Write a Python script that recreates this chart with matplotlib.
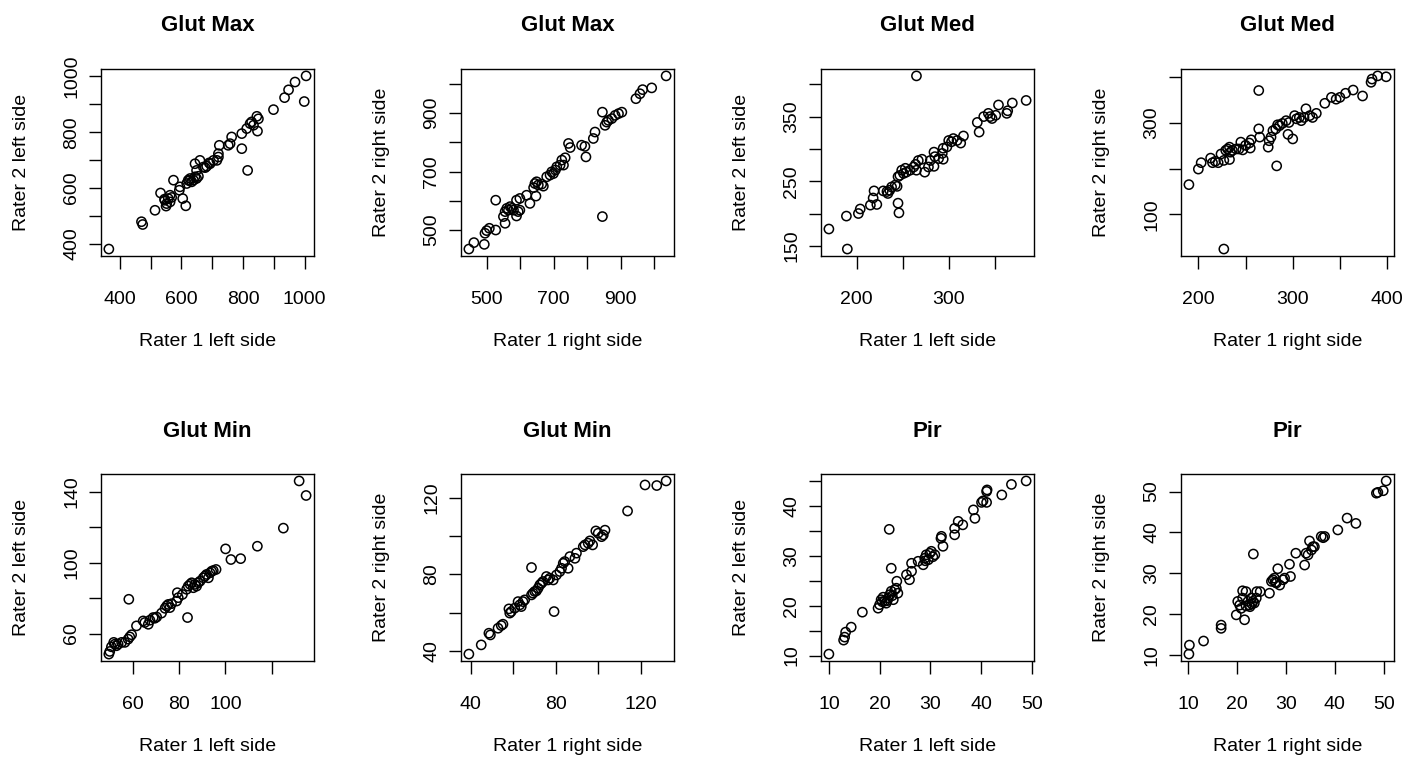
import matplotlib
matplotlib.use('Agg')
import matplotlib.pyplot as plt

plt.rcParams['font.family'] = ['Liberation Sans', 'DejaVu Sans']

# Panel titles and axis labels
titles = ['Glut Max', 'Glut Max', 'Glut Med', 'Glut Med',
          'Glut Min', 'Glut Min', 'Pir', 'Pir']
xlabels = ['Rater 1 left side', 'Rater 1 right side'] * 4
ylabels = ['Rater 2 left side', 'Rater 2 right side'] * 4

# Glut Max, left
gmax_l_x = [364, 470, 474, 514, 532, 546, 550, 552, 557, 563, 568, 574, 593, 604, 614,
            617, 622, 628, 633, 639, 644, 649, 655, 644, 660, 649, 677, 682, 693, 704,
            715, 720, 723, 720, 752, 758, 763, 796, 815, 796, 812, 823, 828, 834, 845,
            850, 847, 899, 935, 948, 969, 1005, 999, 671, 595, 626, 563, 545, 690]
gmax_l_y = [381, 479, 469, 520, 582, 556, 535, 544, 562, 574, 566, 628, 592, 562, 536,
            616, 628, 634, 622, 628, 640, 634, 642, 687, 699, 663, 673, 678, 687, 699,
            699, 711, 753, 723, 753, 759, 783, 741, 663, 795, 813, 831, 837, 825, 857,
            848, 804, 881, 924, 952, 980, 1002, 910, 675, 604, 626, 550, 560, 690]

# Glut Max, right
gmax_r_x = [447, 462, 493, 495, 500, 508, 527, 527, 555, 550, 555, 560, 565, 570, 575,
            580, 589, 594, 599, 589, 599, 619, 629, 647, 644, 649, 654, 664, 669, 679,
            689, 694, 699, 709, 719, 724, 729, 734, 744, 749, 783, 793, 796, 818, 823,
            845, 845, 853, 858, 863, 873, 883, 893, 903, 945, 957, 965, 992, 1035, 640, 705]
gmax_r_y = [435, 457, 451, 489, 498, 506, 500, 602, 523, 546, 563, 574, 568, 580, 574,
            568, 548, 563, 568, 602, 608, 619, 591, 616, 659, 665, 654, 657, 650, 682,
            688, 699, 693, 716, 722, 739, 722, 747, 796, 782, 790, 786, 750, 813, 835,
            546, 903, 858, 869, 875, 881, 892, 898, 903, 949, 966, 980, 986, 1027, 645, 705]

# Glut Med, left
gmed_l_x = [170, 190, 189, 202, 204, 215, 219, 218, 222, 229, 233, 234, 236, 238, 242,
            244, 245, 246, 245, 247, 249, 251, 253, 254, 258, 262, 264, 265, 267, 271,
            274, 278, 280, 284, 284, 285, 289, 293, 294, 294, 298, 300, 303, 305, 309,
            313, 316, 265, 331, 333, 338, 343, 345, 347, 351, 354, 363, 364, 369, 384]
gmed_l_y = [176, 145, 196, 200, 207, 213, 235, 224, 214, 235, 234, 231, 236, 241, 244,
            242, 216, 201, 257, 259, 267, 262, 270, 264, 267, 272, 276, 267, 282, 284,
            264, 272, 282, 273, 295, 288, 285, 293, 284, 301, 303, 313, 311, 316, 313,
            309, 320, 413, 341, 326, 350, 355, 350, 347, 352, 368, 355, 359, 371, 375]

# Glut Med, right
gmed_r_x = [190, 200, 203, 213, 215, 218, 221, 224, 227, 229, 231, 233, 233, 234, 236,
            240, 243, 245, 247, 250, 254, 256, 255, 264, 264, 265, 227, 274, 275, 277,
            279, 282, 284, 286, 289, 293, 296, 300, 295, 283, 302, 304, 307, 309, 312,
            314, 318, 321, 325, 334, 341, 346, 350, 356, 364, 374, 383, 384, 390, 399]
gmed_r_y = [165, 199, 213, 223, 213, 216, 213, 232, 218, 240, 243, 247, 220, 236, 240,
            243, 243, 258, 241, 251, 256, 263, 245, 371, 287, 269, 24, 247, 261, 269,
            283, 287, 296, 294, 299, 305, 301, 265, 275, 206, 316, 309, 312, 305, 312,
            331, 316, 312, 321, 343, 356, 352, 356, 365, 372, 359, 389, 396, 403, 401]

# Glut Min, left
gmin_l_x = [49.8, 50.2, 50.9, 51.9, 52.4, 53.1, 53.8, 55.3, 56.7, 58.1, 58.8, 59.6, 58.4,
            61.7, 64.6, 65.3, 66.8, 67.5, 68.9, 69.6, 70.4, 74.0, 74.7, 75.4, 76.1, 76.8,
            79.3, 79.7, 79.0, 83.7, 83.3, 84.0, 84.8, 85.5, 86.2, 86.9, 87.6, 88.3, 89.1,
            90.5, 91.2, 91.9, 92.7, 93.4, 94.1, 94.8, 96.0, 100.1, 102.4, 106.6, 113.8,
            125.0, 131.8, 134.8, 72.5, 81.5]
gmin_l_y = [48.4, 49.9, 52.5, 55.0, 54.0, 53.1, 54.0, 55.0, 55.0, 56.8, 58.1, 59.3, 79.3,
            64.3, 67.1, 66.2, 65.2, 67.5, 69.0, 68.6, 69.3, 74.2, 75.5, 76.4, 74.6, 76.8,
            83.0, 80.2, 78.3, 69.0, 84.9, 86.7, 87.7, 88.6, 85.8, 87.7, 86.7, 88.6, 89.5,
            91.4, 92.3, 93.3, 91.4, 94.2, 95.1, 95.5, 96.1, 107.7, 101.7, 102.2, 109.2,
            119.4, 146.0, 137.8, 71.5, 82.0]

# Glut Min, right
gmin_r_x = [39.2, 45.0, 48.6, 49.3, 52.9, 54.4, 55.2, 58.0, 58.4, 59.1, 60.7, 62.3, 63.1,
            63.8, 64.6, 65.4, 68.6, 68.6, 69.3, 70.1, 70.9, 71.7, 72.5, 73.3, 74.0, 75.6,
            76.4, 77.2, 78.8, 79.2, 80.3, 81.9, 82.7, 83.5, 84.2, 85.8, 86.6, 89.0, 89.7,
            92.9, 93.7, 95.2, 96.0, 97.3, 98.8, 99.9, 101.5, 102.3, 103.1, 113.7, 121.9,
            127.4, 131.8]
gmin_r_y = [38.3, 43.1, 49.2, 48.3, 51.8, 53.2, 53.9, 61.9, 59.7, 60.5, 62.3, 65.7, 64.0,
            63.1, 65.7, 66.6, 83.5, 69.2, 70.1, 71.0, 71.3, 72.7, 74.4, 75.3, 76.2, 78.8,
            77.0, 77.9, 77.0, 60.5, 79.6, 81.4, 83.1, 85.7, 86.6, 83.1, 89.2, 88.3, 91.0,
            94.4, 95.3, 96.2, 97.4, 95.3, 102.6, 101.4, 99.6, 100.5, 103.0, 113.0, 126.6,
            126.3, 128.7]

# Pir, left
pir_l_x = [10.0, 12.9, 13.1, 13.3, 14.4, 16.6, 19.7, 20.0, 20.3, 20.7, 21.0, 21.3, 21.7,
           22.0, 22.3, 22.7, 23.0, 23.3, 23.4, 23.6, 21.9, 22.3, 25.3, 25.9, 26.3, 26.3,
           27.6, 28.6, 28.9, 29.2, 29.6, 29.9, 30.2, 30.9, 32.1, 32.2, 32.5, 34.8, 34.8,
           35.5, 36.4, 38.5, 38.8, 40.1, 40.4, 41.1, 41.1, 41.2, 44.1, 46.0, 48.9,
           20.5, 21.5, 22.5, 29.0, 30.5]
pir_l_y = [10.3, 13.1, 13.7, 14.7, 15.7, 18.7, 19.5, 20.2, 21.2, 21.7, 20.9, 20.5, 21.5,
           22.2, 22.9, 21.2, 23.2, 23.5, 24.9, 22.5, 35.3, 27.5, 26.2, 25.2, 26.9, 28.5,
           28.9, 28.2, 29.5, 30.2, 29.2, 30.5, 30.9, 30.2, 33.5, 33.9, 31.9, 34.2, 35.5,
           36.9, 36.2, 39.2, 37.5, 40.7, 41.0, 40.7, 42.9, 43.2, 42.2, 44.3, 45.0,
           20.8, 21.0, 22.0, 29.0, 29.8]

# Pir, right
pir_r_x = [10.1, 10.2, 13.1, 16.7, 16.7, 19.8, 20.1, 20.5, 20.8, 21.1, 21.1, 21.5, 21.8,
           22.2, 22.5, 22.9, 23.2, 23.5, 23.9, 24.0, 24.7, 23.3, 26.6, 27.0, 27.3, 27.6,
           28.0, 28.3, 28.7, 29.4, 29.7, 30.9, 30.7, 32.0, 33.8, 34.1, 34.5, 34.8, 35.2,
           35.5, 35.8, 37.2, 37.6, 37.9, 40.6, 42.5, 44.3, 48.5, 48.8, 49.9, 50.5,
           21.8, 22.6, 23.0, 27.8]
pir_r_y = [10.2, 12.4, 13.4, 17.3, 16.5, 19.8, 23.1, 22.2, 21.4, 23.9, 25.7, 18.6, 25.5,
           23.1, 22.2, 23.9, 23.1, 22.7, 23.9, 25.5, 25.5, 34.7, 25.1, 28.0, 28.4, 28.8,
           27.6, 31.1, 27.1, 28.4, 28.8, 29.2, 32.2, 34.9, 32.0, 34.9, 34.5, 37.9, 35.7,
           36.5, 36.5, 39.0, 38.7, 39.0, 40.6, 43.5, 42.2, 49.6, 49.8, 50.2, 52.6,
           22.0, 21.8, 22.5, 27.8]

xs = [gmax_l_x, gmax_r_x, gmed_l_x, gmed_r_x, gmin_l_x, gmin_r_x, pir_l_x, pir_r_x]
ys = [gmax_l_y, gmax_r_y, gmed_l_y, gmed_r_y, gmin_l_y, gmin_r_y, pir_l_y, pir_r_y]

# Tick positions and the labels R kept (blank = dropped for overlap)
xticks = [
    ([400, 500, 600, 700, 800, 900, 1000], ['400', '', '600', '', '800', '', '1000']),
    ([500, 600, 700, 800, 900, 1000], ['500', '', '700', '', '900', '']),
    ([200, 250, 300, 350], ['200', '', '300', '']),
    ([200, 250, 300, 350, 400], ['200', '', '300', '', '400']),
    ([60, 80, 100, 120], ['60', '80', '100', '']),
    ([40, 60, 80, 100, 120], ['40', '', '80', '', '120']),
    ([10, 20, 30, 40, 50], ['10', '20', '30', '40', '50']),
    ([10, 20, 30, 40, 50], ['10', '20', '30', '40', '50']),
]
yticks = [
    ([400, 500, 600, 700, 800, 900, 1000], ['400', '', '600', '', '800', '', '1000']),
    ([500, 600, 700, 800, 900, 1000], ['500', '', '700', '', '900', '']),
    ([150, 200, 250, 300, 350, 400], ['150', '', '250', '', '350', '']),
    ([100, 200, 300, 400], ['100', '', '300', '']),
    ([60, 80, 100, 120, 140], ['60', '', '100', '', '140']),
    ([40, 60, 80, 100, 120], ['40', '', '80', '', '120']),
    ([10, 15, 20, 25, 30, 35, 40, 45], ['10', '', '20', '', '30', '', '40', '']),
    ([10, 20, 30, 40, 50], ['10', '20', '30', '40', '50']),
]

fig, axes = plt.subplots(2, 4, figsize=(14.16, 7.57), dpi=100)
plt.subplots_adjust(left=0.0713, right=0.9845, top=0.9089, bottom=0.1268,
                    wspace=0.69, hspace=1.166)

for i, ax in enumerate(axes.flat):
    x = xs[i]
    y = ys[i]
    ax.scatter(x, y, s=44, facecolors='none', edgecolors='black', linewidths=1.1)

    # R style 4% padding
    xr = max(x) - min(x)
    yr = max(y) - min(y)
    ax.set_xlim(min(x) - 0.04 * xr, max(x) + 0.04 * xr)
    ax.set_ylim(min(y) - 0.04 * yr, max(y) + 0.04 * yr)

    ax.set_xticks(xticks[i][0])
    ax.set_xticklabels(xticks[i][1])
    ax.set_yticks(yticks[i][0])
    ax.set_yticklabels(yticks[i][1], rotation=90, va='center')

    ax.tick_params(direction='out', length=9, width=1, labelsize=14)
    ax.tick_params(axis='x', pad=16)
    ax.tick_params(axis='y', pad=6)
    for s in ax.spines.values():
        s.set_linewidth(1.0)

    ax.set_title(titles[i], fontsize=16, fontweight='bold', pad=27)
    ax.set_xlabel(xlabels[i], fontsize=14, labelpad=18)
    ax.set_ylabel(ylabels[i], fontsize=14, labelpad=24)

plt.savefig('out.png', dpi=100)
